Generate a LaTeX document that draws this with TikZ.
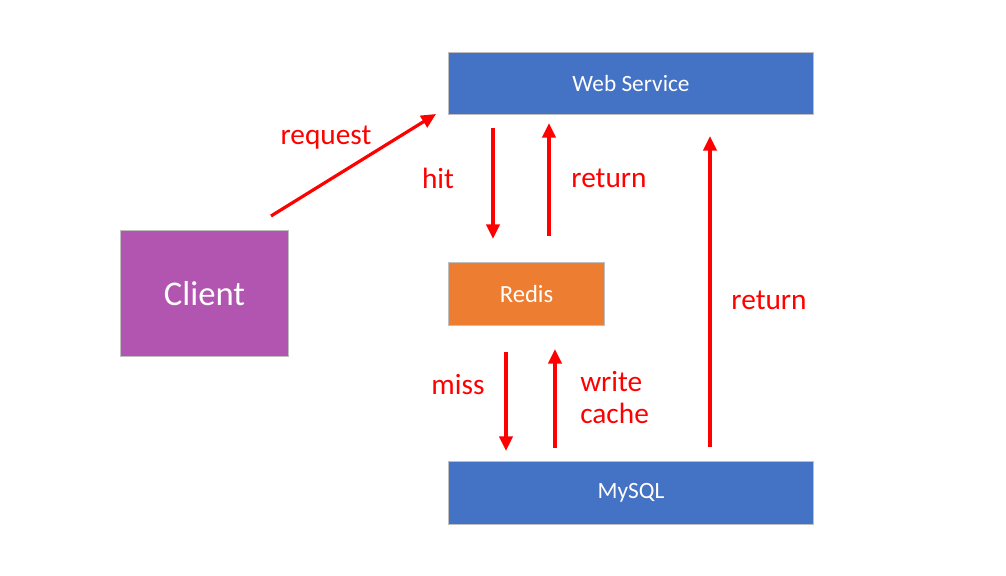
\documentclass[tikz,border=0pt]{standalone}
\usepackage{fontspec}
\setmainfont{Carlito}
\usetikzlibrary{arrows.meta}
\definecolor{bluebox}{HTML}{4472C4}
\definecolor{orangebox}{HTML}{ED7D31}
\definecolor{purplebox}{HTML}{B155B1}
\definecolor{edgegray}{HTML}{BFBFBF}
\definecolor{arrowred}{HTML}{FF0000}
\tikzset{
  box/.style={draw=edgegray, line width=0.8pt, text=white, inner sep=0pt, anchor=north west},
  flow/.style={draw=arrowred, line width=2.4pt, -{Triangle[length=11pt,width=10pt]}},
  lab/.style={text=arrowred, font=\fontsize{22}{26}\selectfont, inner sep=0pt},
}
\begin{document}
\begin{tikzpicture}[x=0.75pt,y=-0.75pt]
\useasboundingbox (0,0) rectangle (1006,575);
% boxes
\node[box, fill=bluebox, minimum width=365*0.75pt, minimum height=62*0.75pt, font=\fontsize{17.5}{20}\selectfont] (web) at (448,52) {Web Service};
\node[box, fill=orangebox, minimum width=156*0.75pt, minimum height=63*0.75pt, font=\fontsize{18.5}{20}\selectfont] (redis) at (448,262) {Redis};
\node[box, fill=bluebox, minimum width=365*0.75pt, minimum height=63*0.75pt, font=\fontsize{17.5}{20}\selectfont] (mysql) at (448,461) {MySQL};
\node[box, fill=purplebox, minimum width=168*0.75pt, minimum height=126*0.75pt, font=\fontsize{26}{30}\selectfont] (client) at (120,230) {Client};
% arrow end points
\coordinate (rqA) at (271,216);
\coordinate (rqB) at (436,114);
\coordinate (hitA) at (493,128);
\coordinate (hitB) at (493,239);
\coordinate (retA) at (549,236);
\coordinate (retB) at (549,123);
\coordinate (missA) at (506,352);
\coordinate (missB) at (506,451);
\coordinate (wcA) at (555,448);
\coordinate (wcB) at (555,349);
\coordinate (rtA) at (710,447);
\coordinate (rtB) at (710,136);
% arrows
\draw[flow] (rqA) -- (rqB);
\draw[flow] (hitA) -- (hitB);
\draw[flow] (retA) -- (retB);
\draw[flow] (missA) -- (missB);
\draw[flow] (wcA) -- (wcB);
\draw[flow] (rtA) -- (rtB);
% labels
\node[lab] (lreq) at (326,138) {request};
\node[lab] (lhit) at (438,178) {hit};
\node[lab] (lret1) at (609,178) {return};
\node[lab] (lmiss) at (458,385) {miss};
\node[lab, align=left, font=\fontsize{22}{24}\selectfont, anchor=west] (lwc) at (580,398) {write\\cache};
\node[lab] (lret2) at (769,300) {return};
\end{tikzpicture}
\end{document}
